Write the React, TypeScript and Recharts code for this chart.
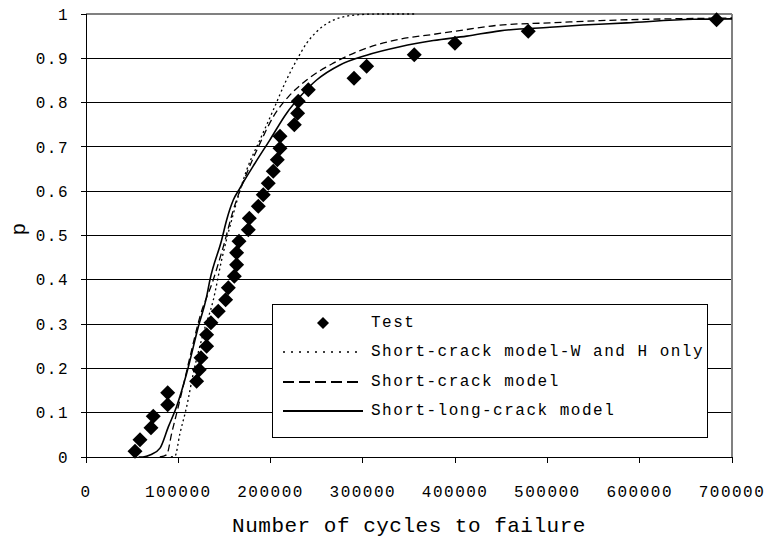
import React from "react";
import {
  ComposedChart,
  Line,
  Scatter,
  XAxis,
  YAxis,
  CartesianGrid,
  ReferenceLine,
  Legend,
} from "recharts";

/* Test results: cycles to failure vs. probability */
const testCycles = [
  53100, 58500, 70400, 72900, 88500, 88500, 119900, 122700, 124600, 130700,
  130700, 135400, 143300, 151300, 154200, 160700, 163200, 163200, 165800,
  175900, 177000, 186700, 192100, 197500, 202900, 207300, 210200, 210200,
  225700, 229300, 230000, 240900, 290400, 304100, 355700, 399800, 479200,
  683300,
];
const testP = [
  0.013, 0.039, 0.066, 0.092, 0.118, 0.145, 0.171, 0.197, 0.224, 0.25, 0.276,
  0.303, 0.329, 0.355, 0.382, 0.408, 0.434, 0.461, 0.487, 0.513, 0.539, 0.566,
  0.592, 0.618, 0.645, 0.671, 0.697, 0.724, 0.75, 0.776, 0.803, 0.829, 0.855,
  0.882, 0.908, 0.934, 0.961, 0.987,
];

/* Short-crack model, W and H only (dotted) */
const whCycles = [
  92000, 96400, 101800, 109100, 116300, 127100, 137900, 147000, 158500, 174100,
  188500, 202900, 215600, 228300, 239100, 249900, 267900, 293300, 318500,
  358300,
];
const whP = [
  0, 0.002, 0.053, 0.114, 0.189, 0.279, 0.354, 0.445, 0.54, 0.648, 0.716,
  0.783, 0.844, 0.896, 0.934, 0.96, 0.986, 0.998, 1.0, 1.0,
];

/* Short-crack model (dashed) */
const shortCycles = [
  80000, 87400, 92800, 101800, 112700, 123500, 137900, 148800, 160000, 174100,
  188500, 202900, 219200, 239100, 267900, 304100, 340200, 376300, 412500,
  448500, 502700, 556900, 629100, 700000,
];
const shortP = [
  0, 0.005, 0.053, 0.129, 0.226, 0.317, 0.4, 0.475, 0.56, 0.64, 0.708, 0.768,
  0.813, 0.851, 0.889, 0.923, 0.943, 0.954, 0.965, 0.975, 0.98, 0.985, 0.989,
  0.991,
];

/* Short-long-crack model (solid) */
const longCycles = [
  57000, 61700, 70000, 80200, 89200, 98200, 109100, 121700, 130700, 134300,
  147000, 152400, 159600, 166800, 183100, 199300, 217400, 231800, 249900,
  275200, 304100, 340200, 376300, 412500, 448500, 502700, 538500, 585800,
  658000, 700000,
];
const longP = [
  0, 0.0, 0.005, 0.02, 0.068, 0.114, 0.189, 0.294, 0.362, 0.4, 0.49, 0.535,
  0.58, 0.607, 0.663, 0.716, 0.776, 0.813, 0.851, 0.885, 0.907, 0.926, 0.94,
  0.95, 0.962, 0.97, 0.975, 0.98, 0.988, 0.989,
];

const xTicks = [0, 100000, 200000, 300000, 400000, 500000, 600000, 700000];
const yTicks = [0, 0.1, 0.2, 0.3, 0.4, 0.5, 0.6, 0.7, 0.8, 0.9, 1];

const zip = (xs: number[], ys: number[]) =>
  xs.map((x, i) => ({ x, p: ys[i] }));

const testData = zip(testCycles, testP);
const whData = zip(whCycles, whP);
const shortData = zip(shortCycles, shortP);
const longData = zip(longCycles, longP);

const font = "'Liberation Mono', 'DejaVu Sans Mono', monospace";
const tickStyle = { fontSize: 16, fill: "#000", fontFamily: font, letterSpacing: 1.5 };

const DOTTED = "2 3";
const DASHED = "7 4";

function Diamond(props: any) {
  const { cx, cy } = props;
  if (cx == null || cy == null) return null;
  const r = 7.5;
  return (
    <path
      d={`M${cx},${cy - r}L${cx + r},${cy}L${cx},${cy + r}L${cx - r},${cy}Z`}
      fill="#000"
    />
  );
}

const legendRows = [
  { name: "Test", kind: "diamond" },
  { name: "Short-crack model-W and H only", kind: "dotted" },
  { name: "Short-crack model", kind: "dashed" },
  { name: "Short-long-crack model", kind: "solid" },
];

function renderLegend() {
  return (
    <div
      style={{
        boxSizing: "border-box",
        width: 436,
        height: 134,
        border: "1px solid #000",
        background: "#fff",
        padding: "3px 0 0 0",
      }}
    >
      {legendRows.map((r) => (
        <div
          key={r.name}
          style={{ display: "flex", alignItems: "center", height: 29.5 }}
        >
          <svg width={98} height={20} style={{ flex: "none" }}>
            {r.kind === "diamond" && (
              <path d="M50,4L56,10L50,16L44,10Z" fill="#000" />
            )}
            {r.kind !== "diamond" && (
              <line
                x1={10}
                x2={90}
                y1={10}
                y2={10}
                stroke="#000"
                strokeWidth={r.kind === "dotted" ? 1.5 : 2}
                strokeDasharray={
                  r.kind === "dotted" ? "2 6" : r.kind === "dashed" ? "11 5" : undefined
                }
              />
            )}
          </svg>
          <span
            style={{
              fontFamily: font,
              fontSize: 16,
              letterSpacing: 1.5,
              color: "#000",
              whiteSpace: "nowrap",
            }}
          >
            {r.name}
          </span>
        </div>
      ))}
    </div>
  );
}

export default function App() {
  return (
    <div
      style={{
        position: "absolute",
        left: 0,
        top: 0,
        width: 769,
        height: 542,
        background: "#fff",
      }}
    >
      <ComposedChart
        width={769}
        height={542}
        margin={{ top: 14, right: 37, bottom: 0, left: 0 }}
      >
        <CartesianGrid vertical={false} stroke="#000" shapeRendering="crispEdges" />
        <XAxis
          type="number"
          dataKey="x"
          domain={[0, 700000]}
          ticks={xTicks}
          interval={0}
          tick={tickStyle}
          tickSize={6}
          tickMargin={23}
          height={85}
          axisLine={{ stroke: "#000", shapeRendering: "crispEdges" }}
          tickLine={{ stroke: "#000", shapeRendering: "crispEdges" }}
          label={{
            value: "Number of cycles to failure",
            position: "insideBottom",
            offset: 10,
            style: {
              fontFamily: font,
              fontSize: 21,
              fill: "#000",
              letterSpacing: 0.5,
            },
          }}
        />
        <YAxis
          type="number"
          dataKey="p"
          domain={[0, 1]}
          ticks={yTicks}
          interval={0}
          width={86}
          tick={tickStyle}
          tickSize={5}
          tickMargin={12}
          tickFormatter={(v: number) => (v === 0 || v === 1 ? `${v}` : v.toFixed(1))}
          axisLine={{ stroke: "#000", shapeRendering: "crispEdges" }}
          tickLine={{ stroke: "#000", shapeRendering: "crispEdges" }}
          label={{
            value: "p",
            angle: -90,
            position: "insideLeft",
            offset: 18,
            style: { fontFamily: font, fontSize: 21, fill: "#000" },
          }}
        />
        <ReferenceLine y={1} stroke="#808080" strokeWidth={2} shapeRendering="crispEdges" />
        <ReferenceLine x={700000} stroke="#808080" strokeWidth={2} shapeRendering="crispEdges" />
        <Line
          data={whData}
          dataKey="p"
          type="monotone"
          stroke="#000"
          strokeWidth={1.3}
          strokeDasharray={DOTTED}
          dot={false}
          isAnimationActive={false}
        />
        <Line
          data={shortData}
          dataKey="p"
          type="monotone"
          stroke="#000"
          strokeWidth={1.3}
          strokeDasharray={DASHED}
          dot={false}
          isAnimationActive={false}
        />
        <Line
          data={longData}
          dataKey="p"
          type="monotone"
          stroke="#000"
          strokeWidth={1.6}
          dot={false}
          isAnimationActive={false}
        />
        <Scatter
          data={testData}
          dataKey="p"
          shape={Diamond}
          isAnimationActive={false}
        />
        <Legend
          layout="vertical"
          align="center"
          verticalAlign="middle"
          content={renderLegend}
          wrapperStyle={{ position: "absolute", left: 272, top: 304, width: 436, height: 134 }}
        />
      </ComposedChart>
    </div>
  );
}
